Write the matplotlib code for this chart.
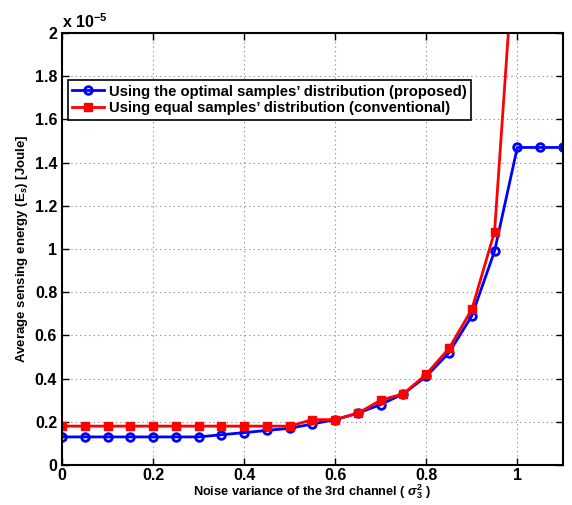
import numpy as np
import matplotlib.pyplot as plt
from matplotlib.ticker import FuncFormatter

plt.rcParams.update(
    {
        "font.family": ["Liberation Sans", "DejaVu Sans"],
        "font.weight": "bold",
        "axes.labelweight": "bold",
        "mathtext.fontset": "custom",
        "mathtext.rm": "Liberation Sans:bold",
        "mathtext.it": "Liberation Sans:bold:italic",
        "mathtext.bf": "Liberation Sans:bold",
        "axes.linewidth": 1.5,
    }
)

# noise variance of the 3rd channel
sigma3 = [0.0, 0.05, 0.1, 0.15, 0.2, 0.25, 0.3, 0.35, 0.4, 0.45, 0.5, 0.55,
          0.6, 0.65, 0.7, 0.75, 0.8, 0.85, 0.9, 0.95, 1.0, 1.05, 1.1]
# average sensing energy, x 1e-5 Joule
e_optimal = [0.13, 0.13, 0.13, 0.13, 0.13, 0.13, 0.13, 0.14, 0.15, 0.16, 0.17, 0.19,
             0.21, 0.24, 0.28, 0.33, 0.41, 0.52, 0.69, 0.99, 1.47, 1.47, 1.47]
sigma3_eq = sigma3[:21]
e_equal = [0.18, 0.18, 0.18, 0.18, 0.18, 0.18, 0.18, 0.18, 0.18, 0.18, 0.18, 0.21,
           0.21, 0.24, 0.30, 0.33, 0.42, 0.54, 0.72, 1.08, 2.6]

fig = plt.figure(figsize=(5.72, 5.05), dpi=100)
ax = fig.add_axes([0.1084, 0.0792, 0.8756, 0.8555])

ax.plot(sigma3, e_optimal, "-o", color="blue", lw=2.0, ms=5.5,
        mfc="none", mew=2, label="Using the optimal samples\u2019 distribution (proposed)")
ax.plot(sigma3_eq, e_equal, "-s", color="red", lw=2.0, ms=5.5,
        label="Using equal samples\u2019 distribution (conventional)")

ax.set_xlim(0, 1.1)
ax.set_ylim(0, 2)
ax.set_xticks(np.arange(0, 1.01, 0.2))
ax.set_yticks(np.arange(0, 2.01, 0.2))
ax.xaxis.set_major_formatter(FuncFormatter(lambda v, p: f"{v:g}"))
ax.yaxis.set_major_formatter(FuncFormatter(lambda v, p: f"{v:g}"))
ax.tick_params(direction="in", labelsize=11.5, top=True, right=True, length=5, width=1)
ax.tick_params(axis="x", pad=2)
ax.grid(True, linestyle=(0, (1, 3)), color="gray", lw=0.8)

ax.text(0.0, 1.005, r"x 10$^{-5}$", transform=ax.transAxes, fontsize=11.5,
        ha="left", va="bottom")
ax.set_xlabel(r"Noise variance of the 3rd channel ( $\sigma_3^2$ )", fontsize=9.2,
              labelpad=0)
ax.set_ylabel(r"Average sensing energy (E$_s$) [Joule]", fontsize=9.5, labelpad=3)

leg = ax.legend(loc="upper left", bbox_to_anchor=(0.012, 0.891), fontsize=10.7,
                fancybox=False, edgecolor="black", framealpha=1,
                handlelength=2.15, handletextpad=0.3, borderpad=0.3,
                labelspacing=0.2, borderaxespad=0)
leg.get_frame().set_linewidth(1.2)

plt.savefig("out.png", dpi=100)
